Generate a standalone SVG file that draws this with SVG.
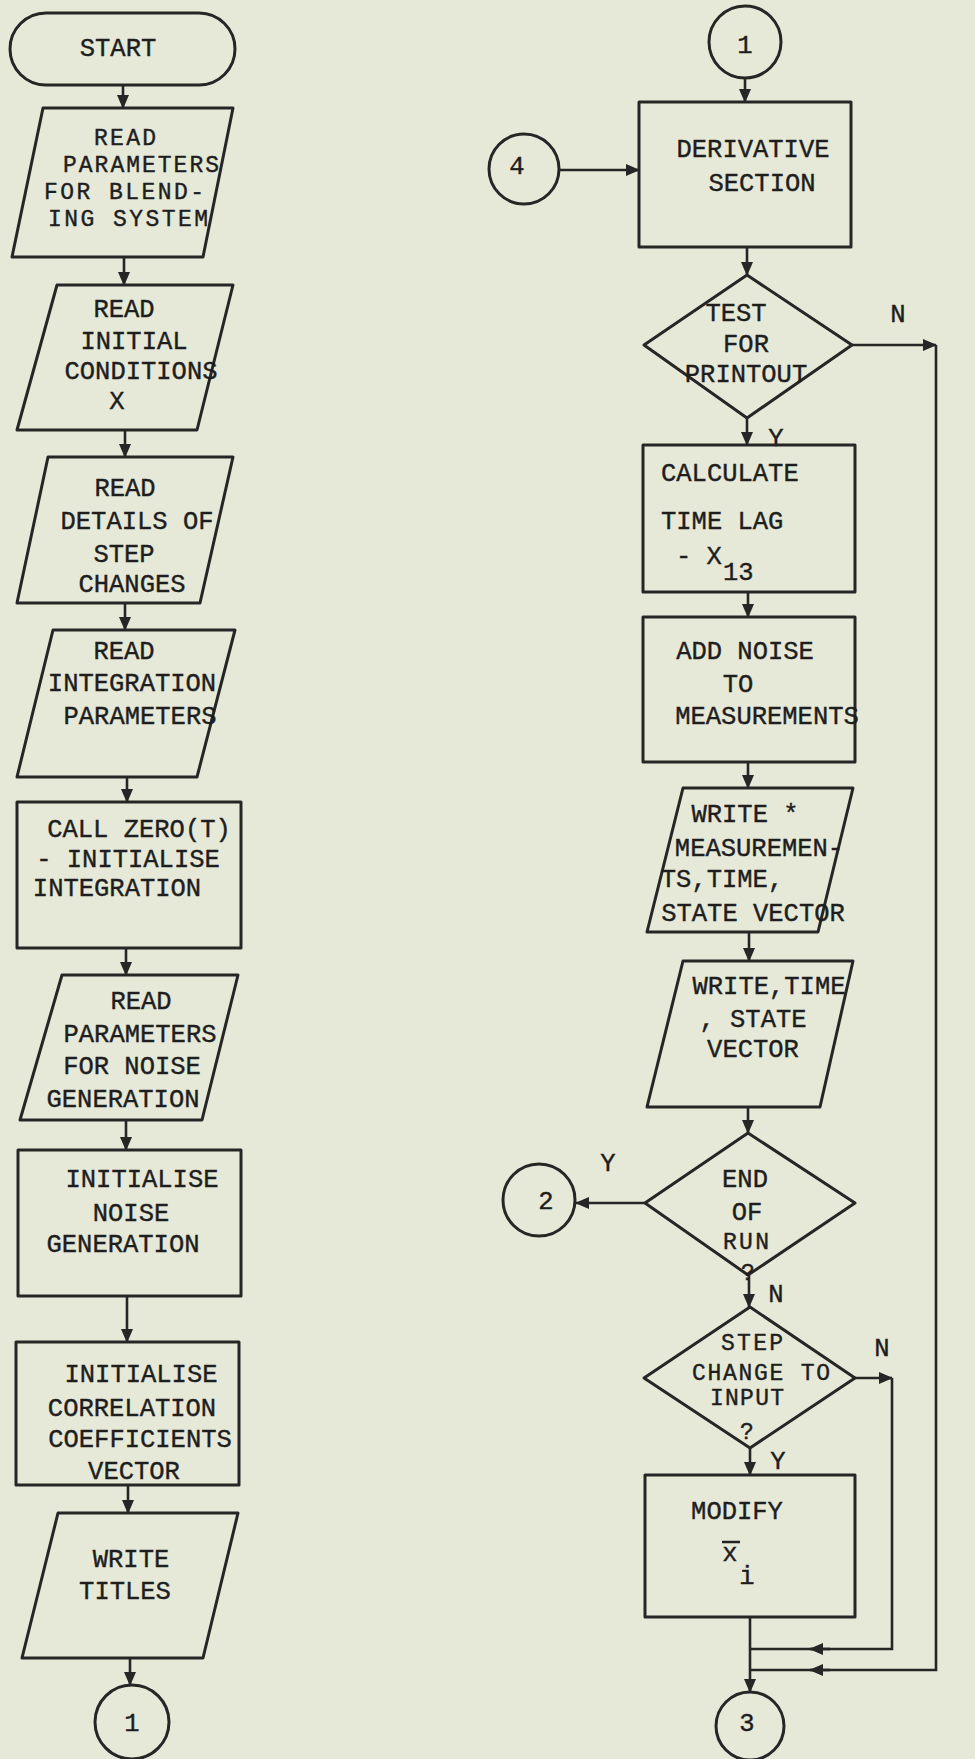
<svg xmlns="http://www.w3.org/2000/svg" width="975" height="1759" viewBox="0 0 975 1759">
<style>
.bg{fill:#e7e9d8}
.s{fill:none;stroke:#262626;stroke-width:3;stroke-linejoin:round}
.c{fill:none;stroke:#262626;stroke-width:2.6}
text{font-family:"Liberation Mono","DejaVu Sans Mono",monospace;font-size:25.5px;fill:#1e1e1e;text-anchor:middle;stroke:#1e1e1e;stroke-width:0.4}
text.l{text-anchor:start}
text.t{font-size:23px}
</style>
<defs>
<marker id="a" markerUnits="userSpaceOnUse" markerWidth="14" markerHeight="12" refX="13" refY="6" orient="auto">
<path d="M0,0 L14,6 L0,12 z" fill="#262626"/>
</marker>
</defs>
<rect class="bg" width="975" height="1759"/>

<g id="connectors">
<line class="c" x1="123" y1="85" x2="123" y2="108" marker-end="url(#a)"/>
<line class="c" x1="124" y1="257" x2="124" y2="285" marker-end="url(#a)"/>
<line class="c" x1="125" y1="430" x2="125" y2="457" marker-end="url(#a)"/>
<line class="c" x1="125" y1="603" x2="125" y2="630" marker-end="url(#a)"/>
<line class="c" x1="127" y1="777" x2="127" y2="802" marker-end="url(#a)"/>
<line class="c" x1="126" y1="948" x2="126" y2="975" marker-end="url(#a)"/>
<line class="c" x1="126" y1="1120" x2="126" y2="1150" marker-end="url(#a)"/>
<line class="c" x1="127" y1="1296" x2="127" y2="1342" marker-end="url(#a)"/>
<line class="c" x1="128" y1="1485" x2="128" y2="1513" marker-end="url(#a)"/>
<line class="c" x1="130" y1="1658" x2="130" y2="1685" marker-end="url(#a)"/>

<line class="c" x1="745" y1="78" x2="745" y2="102" marker-end="url(#a)"/>
<line class="c" x1="558" y1="170" x2="639" y2="170" marker-end="url(#a)"/>
<line class="c" x1="747" y1="247" x2="747" y2="275" marker-end="url(#a)"/>
<line class="c" x1="747" y1="418" x2="747" y2="445" marker-end="url(#a)"/>
<line class="c" x1="852" y1="345" x2="936" y2="345" marker-end="url(#a)"/>
<path class="c" d="M936 345 V1670 H810"/>
<line class="c" x1="830" y1="1670" x2="810" y2="1670" marker-end="url(#a)"/>
<line class="c" x1="810" y1="1670" x2="750" y2="1670"/>
<line class="c" x1="748" y1="592" x2="748" y2="617" marker-end="url(#a)"/>
<line class="c" x1="748" y1="762" x2="748" y2="788" marker-end="url(#a)"/>
<line class="c" x1="749" y1="932" x2="749" y2="961" marker-end="url(#a)"/>
<line class="c" x1="748" y1="1107" x2="748" y2="1133" marker-end="url(#a)"/>
<line class="c" x1="645" y1="1203" x2="576" y2="1203" marker-end="url(#a)"/>
<line class="c" x1="749" y1="1275" x2="749" y2="1307" marker-end="url(#a)"/>
<line class="c" x1="855" y1="1378" x2="892" y2="1378" marker-end="url(#a)"/>
<path class="c" d="M892 1378 V1649 H810"/>
<line class="c" x1="830" y1="1649" x2="810" y2="1649" marker-end="url(#a)"/>
<line class="c" x1="810" y1="1649" x2="750" y2="1649"/>
<line class="c" x1="750" y1="1448" x2="750" y2="1475" marker-end="url(#a)"/>
<line class="c" x1="750" y1="1617" x2="750" y2="1692" marker-end="url(#a)"/>
<text x="898" y="322">N</text>
<text x="776" y="446">Y</text>
<text x="608" y="1171">Y</text>
<text x="776" y="1302">N</text>
<text x="882" y="1356">N</text>
<text x="778" y="1469">Y</text>
</g>

<g id="start">
<rect class="s" x="10" y="13" width="225" height="72" rx="36"/>
<text x="118" y="56">START</text>
</g>

<g id="read-params-blending">
<polygon class="s" points="43,108 233,108 203,257 12,257"/>
<text class="t" x="125" y="145" textLength="62" lengthAdjust="spacing">READ</text>
<text class="t" x="141" y="172" textLength="156" lengthAdjust="spacing">PARAMETERS</text>
<text class="t" x="124" y="199" textLength="160" lengthAdjust="spacing">FOR BLEND-</text>
<text class="t" x="128" y="226" textLength="160" lengthAdjust="spacing">ING SYSTEM</text>
</g>

<g id="read-initial">
<polygon class="s" points="57,285 233,285 197,430 17,430"/>
<text x="124" y="317">READ</text>
<text x="134" y="349">INITIAL</text>
<text x="141" y="379">CONDITIONS</text>
<text x="117" y="409">X</text>
</g>

<g id="read-step">
<polygon class="s" points="48,457 233,457 200,603 17,603"/>
<text x="125" y="496">READ</text>
<text x="137" y="529">DETAILS OF</text>
<text x="124" y="562">STEP</text>
<text x="132" y="592">CHANGES</text>
</g>

<g id="read-integration">
<polygon class="s" points="53,630 235,630 197,777 17,777"/>
<text x="124" y="659">READ</text>
<text x="132" y="691">INTEGRATION</text>
<text x="140" y="724">PARAMETERS</text>
</g>

<g id="call-zero">
<rect class="s" x="17" y="802" width="224" height="146"/>
<text x="139" y="837">CALL ZERO(T)</text>
<text x="128" y="867">- INITIALISE</text>
<text x="117" y="896">INTEGRATION</text>
</g>

<g id="read-noise">
<polygon class="s" points="62,975 238,975 202,1120 20,1120"/>
<text x="141" y="1009">READ</text>
<text x="140" y="1042">PARAMETERS</text>
<text x="132" y="1074">FOR NOISE</text>
<text x="123" y="1107">GENERATION</text>
</g>

<g id="init-noise">
<rect class="s" x="18" y="1150" width="223" height="146"/>
<text x="142" y="1187">INITIALISE</text>
<text x="131" y="1221">NOISE</text>
<text x="123" y="1252">GENERATION</text>
</g>

<g id="init-corr">
<rect class="s" x="16" y="1342" width="223" height="143"/>
<text x="141" y="1382">INITIALISE</text>
<text x="132" y="1416">CORRELATION</text>
<text x="140" y="1447">COEFFICIENTS</text>
<text x="134" y="1479">VECTOR</text>
</g>

<g id="write-titles">
<polygon class="s" points="58,1513 238,1513 203,1658 22,1658"/>
<text x="131" y="1567">WRITE</text>
<text x="125" y="1599">TITLES</text>
</g>

<g id="conn-1-left">
<circle class="s" cx="132" cy="1722" r="37"/>
<text x="132" y="1731">1</text>
</g>

<g id="conn-1-right">
<circle class="s" cx="745" cy="42" r="36"/>
<text x="745" y="53">1</text>
</g>

<g id="conn-4">
<circle class="s" cx="524" cy="169" r="35"/>
<text x="517" y="174">4</text>
</g>

<g id="derivative">
<rect class="s" x="639" y="102" width="212" height="145"/>
<text x="753" y="157">DERIVATIVE</text>
<text x="762" y="191">SECTION</text>
</g>

<g id="test-printout">
<polygon class="s" points="747,275 852,345 747,418 644,345"/>
<text x="736" y="321">TEST</text>
<text x="746" y="352">FOR</text>
<text x="746" y="382">PRINTOUT</text>
</g>

<g id="calc-lag">
<rect class="s" x="643" y="445" width="212" height="147"/>
<text class="l" x="661" y="481">CALCULATE</text>
<text class="l" x="661" y="529">TIME LAG</text>
<text class="l" x="676" y="564">- X</text>
<text class="l" x="723" y="580">13</text>
</g>

<g id="add-noise">
<rect class="s" x="643" y="617" width="212" height="145"/>
<text x="745" y="659">ADD NOISE</text>
<text x="738" y="692">TO</text>
<text x="767" y="724">MEASUREMENTS</text>
</g>

<g id="write-meas">
<polygon class="s" points="683,788 853,788 818,932 647,932"/>
<text x="745" y="822">WRITE *</text>
<text x="759" y="856">MEASUREMEN-</text>
<text x="722" y="887">TS,TIME,</text>
<text x="753" y="921">STATE VECTOR</text>
</g>

<g id="write-time">
<polygon class="s" points="683,961 853,961 820,1107 647,1107"/>
<text x="769" y="994">WRITE,TIME</text>
<text x="753" y="1027">, STATE</text>
<text x="753" y="1057">VECTOR</text>
</g>

<g id="end-run">
<polygon class="s" points="748,1133 855,1203 748,1275 645,1203"/>
<text x="745" y="1187">END</text>
<text x="747" y="1220">OF</text>
<text class="t" x="746" y="1249" textLength="46" lengthAdjust="spacing">RUN</text>
<text class="t" x="748" y="1280">?</text>
</g>

<g id="step-change">
<polygon class="s" points="750,1307 855,1378 750,1448 644,1378"/>
<text class="t" x="752" y="1350" textLength="62" lengthAdjust="spacing">STEP</text>
<text class="t" x="761" y="1380" textLength="138" lengthAdjust="spacing">CHANGE TO</text>
<text class="t" x="747" y="1405" textLength="74" lengthAdjust="spacing">INPUT</text>
<text class="t" x="747" y="1439">?</text>
</g>

<g id="conn-2">
<circle class="s" cx="539" cy="1200" r="36"/>
<text x="546" y="1209">2</text>
</g>

<g id="modify">
<rect class="s" x="645" y="1475" width="210" height="142"/>
<text x="737" y="1519">MODIFY</text>
<line x1="722" y1="1542" x2="740" y2="1542" stroke="#222" stroke-width="2.5"/>
<text x="730" y="1561">x</text>
<text x="747" y="1584">i</text>
</g>

<g id="conn-3">
<circle class="s" cx="750" cy="1726" r="34"/>
<text x="747" y="1731">3</text>
</g>
</svg>
